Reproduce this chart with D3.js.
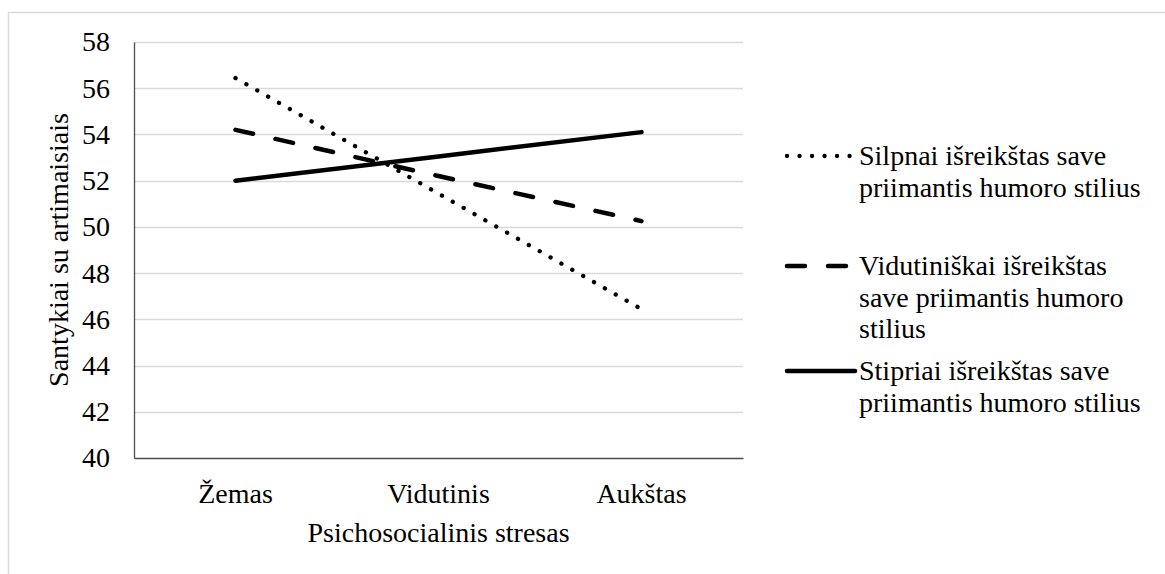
<!DOCTYPE html>
<html>
<head>
<meta charset="utf-8">
<script src="https://cdn.jsdelivr.net/npm/d3@7/dist/d3.min.js"></script>
<style>
  html, body { margin: 0; padding: 0; background: #ffffff; }
  svg { display: block; }
  svg text { fill: #000; }
</style>
</head>
<body>
<svg id="chart" width="1165" height="574"></svg>
<script>
// Stress levels on the x axis
const categories = ["Žemas", "Vidutinis", "Aukštas"];

// Mean scores for each humour-style group
const weakValues = [56.44, 51.44, 46.44];
const moderateValues = [54.2, 52.2, 50.25];
const strongValues = [52.0, 53.05, 54.1];

const yTicks = [40, 42, 44, 46, 48, 50, 52, 54, 56, 58];

const seriesNames = [
  ["Silpnai išreikštas save", "priimantis humoro stilius"],
  ["Vidutiniškai išreikštas", "save priimantis humoro", "stilius"],
  ["Stipriai išreikštas save", "priimantis humoro stilius"]
];

const xTitle = "Psichosocialinis stresas";
const yTitle = "Santykiai su artimaisiais";

const FONT = "'Liberation Serif', 'Times New Roman', serif";
const FONT_SIZE = 28;

const series = [
  { values: weakValues, names: seriesNames[0], dash: "0.1 12.4", width: 4.3 },
  { values: moderateValues, names: seriesNames[1], dash: "18 23", width: 4.5 },
  { values: strongValues, names: seriesNames[2], dash: null, width: 4.5 }
];

const svg = d3.select("#chart");

const plot = { left: 134, right: 743, top: 42, bottom: 458 };

// outer chart frame
svg.append("rect")
  .attr("x", 8.5).attr("y", 12.5)
  .attr("width", 1200).attr("height", 600)
  .attr("fill", "none")
  .attr("stroke", "#d9d9d9")
  .attr("stroke-width", 1.5);

const x = d3.scaleBand()
  .domain(categories)
  .range([plot.left, plot.right]);

const y = d3.scaleLinear()
  .domain([40, 58])
  .range([plot.bottom, plot.top]);

// horizontal gridlines
svg.append("g")
  .selectAll("line")
  .data(yTicks.filter(t => t !== 40))
  .join("line")
  .attr("x1", plot.left).attr("x2", plot.right)
  .attr("y1", d => Math.round(y(d)) + 0.5).attr("y2", d => Math.round(y(d)) + 0.5)
  .attr("stroke", "#d9d9d9")
  .attr("stroke-width", 1.5);

// y axis
const yAxis = svg.append("g")
  .attr("transform", `translate(${plot.left},0)`)
  .call(d3.axisLeft(y).tickValues(yTicks).tickSize(0).tickPadding(24));
yAxis.attr("font-family", FONT).attr("font-size", FONT_SIZE);
yAxis.select(".domain").attr("stroke", "#4d4d4d").attr("stroke-width", 1.3);

// x axis
const xAxis = svg.append("g")
  .attr("transform", `translate(0,${plot.bottom})`)
  .call(d3.axisBottom(x).tickSize(0).tickPadding(25));
xAxis.attr("font-family", FONT).attr("font-size", FONT_SIZE);
xAxis.select(".domain").attr("stroke", "#4d4d4d").attr("stroke-width", 1.3);

// axis titles
svg.append("text")
  .attr("x", (plot.left + plot.right) / 2)
  .attr("y", 542)
  .attr("text-anchor", "middle")
  .attr("font-family", FONT)
  .attr("font-size", FONT_SIZE)
  .text(xTitle);

svg.append("text")
  .attr("transform", `translate(68,${(plot.top + plot.bottom) / 2}) rotate(-90)`)
  .attr("text-anchor", "middle")
  .attr("font-family", FONT)
  .attr("font-size", FONT_SIZE)
  .text(yTitle);

// series lines
const line = d3.line()
  .x((d, i) => x(categories[i]) + x.bandwidth() / 2)
  .y(d => y(d));

series.forEach(s => {
  svg.append("path")
    .datum(s.values)
    .attr("d", line)
    .attr("fill", "none")
    .attr("stroke", "#000")
    .attr("stroke-width", s.width)
    .attr("stroke-linecap", "round")
    .attr("stroke-dasharray", s.dash);
});

// legend
const legendX0 = 787, legendX1 = 855, textX = 859;
const legendRows = [156, 266, 371];
const lineGap = 31.5;

series.forEach((s, i) => {
  const g = svg.append("g").attr("transform", `translate(0,${legendRows[i]})`);
  g.append("line")
    .attr("x1", legendX0).attr("x2", legendX1)
    .attr("y1", 0).attr("y2", 0)
    .attr("stroke", "#000")
    .attr("stroke-width", s.width)
    .attr("stroke-linecap", "round")
    .attr("stroke-dasharray", s.dash);
  g.selectAll("text")
    .data(s.names)
    .join("text")
    .attr("x", textX)
    .attr("y", (d, j) => j * lineGap + 9)
    .attr("font-family", FONT)
    .attr("font-size", FONT_SIZE)
    .text(d => d);
});
</script>
</body>
</html>
